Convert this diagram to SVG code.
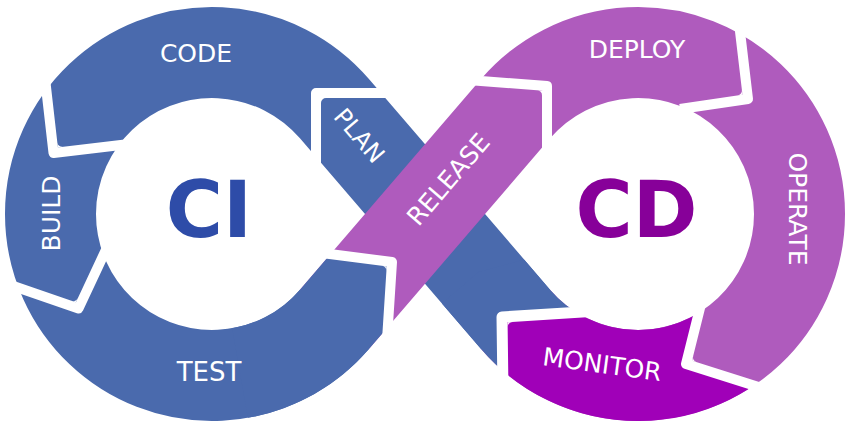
<svg xmlns="http://www.w3.org/2000/svg" xmlns:xlink="http://www.w3.org/1999/xlink" width="852" height="426" viewBox="0 0 852 426">
<style>
.band{fill:none;stroke-width:91;stroke-linecap:butt;stroke-linejoin:round}
.blue{stroke:#4a6aad}
.purple{stroke:#af5bbd}
.dark{stroke:#a000b8}
.gap{fill:none;stroke:#ffffff;stroke-width:10;stroke-linejoin:round;stroke-linecap:butt}
.fillet{fill:#ffffff;stroke:none}
.lbl{font-family:"DejaVu Sans","Liberation Sans",sans-serif;fill:#ffffff;text-anchor:middle}
.big{font-family:"DejaVu Sans","Liberation Sans",sans-serif;font-weight:bold;font-size:78px;text-anchor:middle}
</style>
<defs>
<path id="bandBlue" d="M515.55 319.3 L334.45 108.7 A161.5 161.5 0 1 0 334.45 319.3"/>
<path id="bandPurple" d="M334.45 319.3 L515.55 108.7 A161.5 161.5 0 1 1 515.55 319.3"/>
<path id="dOver" d="M761.7 317.8 A161.5 161.5 0 0 1 515.55 319.3 L476.4 273.8"/>
<path id="bOver" d="M240 373.05 A161.5 161.5 0 0 0 334.45 319.3 L386.6 258.7"/>
<clipPath id="clipTest"><polygon points="200,250 318,252.5 392,262 385,368 384,440 200,440"/></clipPath>
<clipPath id="clipPlanTail"><polygon points="430,440 430,285 560,250 600,300 586,311.7 502,317 503,440"/></clipPath>
<clipPath id="clipMonitor"><polygon points="502,317 586,311.7 702,298 686,364 765,389 790,440 503,440"/></clipPath>
</defs>
<rect width="852" height="426" fill="#ffffff"/>
<g id="connectors">
<use xlink:href="#bandBlue" class="band blue"/>
<use xlink:href="#bandPurple" class="band purple"/>
<use xlink:href="#bOver" class="band blue" clip-path="url(#clipTest)"/>
<use xlink:href="#dOver" class="band blue" clip-path="url(#clipPlanTail)"/>
<use xlink:href="#dOver" class="band dark" clip-path="url(#clipMonitor)"/>
<polyline class="gap" points="316,172 316,93 396,93"/>
<polyline class="gap" points="43.5,65 53.5,153 125,144.5"/>
<polyline class="gap" points="6,283.5 78.5,308.5 108,245.4"/>
<polyline class="gap" points="318,252.5 392,262 385.2,368"/>
<polyline class="gap" points="468,80 547,86 547,150"/>
<polyline class="gap" points="737.7,12 748,99 680,109"/>
<polyline class="gap" points="702.5,298 686,364 765,389"/>
<polyline class="gap" style="stroke-width:11" points="586,311.7 502,317 503,392"/>
<path class="fillet" d="M321 98 L321 103 A5 5 0 0 1 326 98 Z"/>
<path class="fillet" d="M57.9 147.4 L57.3 142.4 A5 5 0 0 0 62.9 146.8 Z"/>
<path class="fillet" d="M75.9 302.3 L71.2 300.7 A5 5 0 0 0 78 297.8 Z"/>
<path class="fillet" d="M386.7 266.4 L381.7 265.7 A5 5 0 0 1 386.4 271.4 Z"/>
<path class="fillet" d="M542 90.6 L537 90.2 A5 5 0 0 1 542 95.6 Z"/>
<path class="fillet" d="M742.5 94.8 L741.9 89.8 A5 5 0 0 1 737.6 95.5 Z"/>
<path class="fillet" d="M692 360.7 L693.2 355.8 A5 5 0 0 0 696.7 362.2 Z"/>
<path class="fillet" d="M507.6 322.2 L512.6 321.9 A5 5 0 0 0 507.7 327.2 Z"/>
</g>
<g id="node-plan"><text class="lbl" font-size="24" transform="translate(353,141) rotate(49.3)">PLAN</text></g>
<g id="node-code"><text class="lbl" font-size="25" x="196" y="62">CODE</text></g>
<g id="node-build"><text class="lbl" font-size="25" transform="translate(60,213.5) rotate(-90)">BUILD</text></g>
<g id="node-test"><text class="lbl" font-size="26" x="209" y="381">TEST</text></g>
<g id="node-release"><text class="lbl" font-size="25" transform="translate(455,185) rotate(-49.3)">RELEASE</text></g>
<g id="node-deploy"><text class="lbl" font-size="25" x="637" y="58">DEPLOY</text></g>
<g id="node-operate"><text class="lbl" font-size="25" transform="translate(789,209) rotate(90)">OPERATE</text></g>
<g id="node-monitor"><text class="lbl" font-size="25" transform="translate(601,373) rotate(7.7)">MONITOR</text></g>
<g id="node-ci"><text class="big" x="209" y="237" fill="#2e4ca8">CI</text></g>
<g id="node-cd"><text class="big" x="636.5" y="237" fill="#870099">CD</text></g>
</svg>
